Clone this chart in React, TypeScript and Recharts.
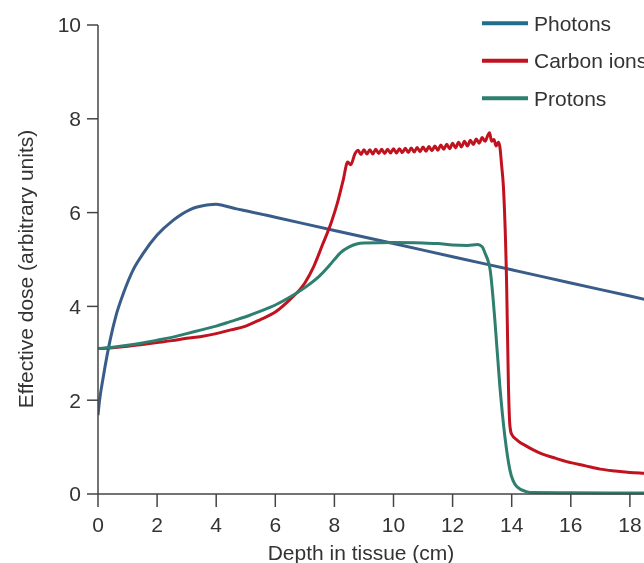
import React from 'react';
import { LineChart, Line, XAxis, YAxis, Legend } from 'recharts';

const xTicks = [0, 2, 4, 6, 8, 10, 12, 14, 16, 18, 20];
const yTicks = [0, 2, 4, 6, 8, 10];

const photonDepth = [0, 0.05, 0.18, 0.41, 0.63, 0.86, 1.19, 1.53, 2.0, 2.55, 3.1, 3.68, 4.0, 4.24, 4.69, 5.0, 6, 8, 10, 12, 14, 16, 18, 20];
const photonDose = [1.68, 1.98, 2.5, 3.28, 3.85, 4.28, 4.78, 5.13, 5.52, 5.84, 6.06, 6.16, 6.18, 6.15, 6.08, 6.04, 5.9, 5.62, 5.34, 5.06, 4.78, 4.5, 4.22, 3.94];

const carbonDepth = [
  0, 0.5, 1, 1.5, 2, 2.5, 3, 3.5, 4, 4.5, 5, 5.5, 6, 6.5, 7, 7.3, 7.6, 7.9, 8.1, 8.3, 8.45, 8.55, 8.7,
  8.8, 8.9, 9.0, 9.1, 9.2, 9.3, 9.4, 9.5, 9.6, 9.7, 9.8, 9.9, 10.0, 10.1, 10.2, 10.3, 10.4, 10.5, 10.6, 10.7, 10.8, 10.9,
  11.0, 11.1, 11.2, 11.3, 11.4, 11.5, 11.6, 11.7, 11.8, 11.9, 12.0, 12.1, 12.2, 12.3, 12.4, 12.5, 12.6, 12.7, 12.8, 12.9,
  13.0, 13.1, 13.2, 13.25, 13.32, 13.4, 13.47, 13.55, 13.6, 13.66, 13.72, 13.83, 13.89, 13.94, 14.0, 14.2, 14.5, 14.73,
  15.0, 15.5, 15.86, 16.5, 17.0, 17.5, 18.0, 18.5, 19.0, 20.0,
];
const carbonDose = [
  3.1, 3.12, 3.15, 3.19, 3.23, 3.27, 3.32, 3.36, 3.42, 3.5, 3.58, 3.72, 3.88, 4.15, 4.5, 4.85, 5.32, 5.8, 6.2, 6.7, 7.08, 7.02, 7.26,
  7.33, 7.24, 7.34, 7.25, 7.34, 7.25, 7.35, 7.26, 7.35, 7.26, 7.35, 7.27, 7.36, 7.27, 7.36, 7.28, 7.37, 7.28, 7.38, 7.29, 7.39, 7.3,
  7.4, 7.31, 7.41, 7.32, 7.42, 7.33, 7.44, 7.35, 7.46, 7.36, 7.48, 7.38, 7.5, 7.4, 7.52, 7.42, 7.54, 7.45, 7.57, 7.48,
  7.6, 7.52, 7.66, 7.7, 7.52, 7.56, 7.42, 7.5, 7.4, 7.0, 6.55, 4.42, 2.29, 1.45, 1.27, 1.14, 1.02, 0.94,
  0.86, 0.76, 0.69, 0.6, 0.53, 0.49, 0.46, 0.44, 0.42, 0.39,
];

const protonDepth = [0, 0.5, 1, 1.5, 2, 2.5, 3, 3.5, 4, 4.5, 5, 5.5, 6, 6.5, 7, 7.5, 7.8, 8.0, 8.2, 8.5, 8.75, 9, 10, 11, 11.5, 12, 12.5, 12.85, 13.0, 13.1, 13.27, 13.43, 13.6, 13.77, 13.94, 14.17, 14.5, 14.7, 16, 18, 20];
const protonDose = [3.1, 3.13, 3.17, 3.22, 3.28, 3.34, 3.42, 3.5, 3.58, 3.68, 3.78, 3.9, 4.03, 4.2, 4.4, 4.65, 4.85, 5.0, 5.14, 5.27, 5.33, 5.35, 5.36, 5.35, 5.34, 5.31, 5.3, 5.32, 5.27, 5.13, 4.78, 3.71, 2.29, 1.22, 0.51, 0.16, 0.05, 0.03, 0.025, 0.02, 0.015];

const seriesNames = ['Photons', 'Carbon ions', 'Protons'];
const lineColors = ['#3a5c88', '#c1121f', '#2e7f6f'];
const legendColors = ['#1f6f8b', '#c1121f', '#2e7f6f'];

const toPoints = (xs: number[], ys: number[]) => xs.map((x, i) => ({ depth: x, dose: ys[i] }));
const photonData = toPoints(photonDepth, photonDose);
const carbonData = toPoints(carbonDepth, carbonDose);
const protonData = toPoints(protonDepth, protonDose);

const FONT = '"Liberation Sans", Arial, sans-serif';
const TEXT = '#333';
const AXIS = '#444';

const LegendContent = () => (
  <svg width={200} height={110} style={{ display: 'block', overflow: 'visible' }}>
    {seriesNames.map((name, i) => {
      const y = 15.3 + i * 37.5;
      return (
        <g key={name}>
          <line x1={0} x2={46} y1={y} y2={y} stroke={legendColors[i]} strokeWidth={4} />
          <text x={52} y={y} dy="0.35em" fontFamily={FONT} fontSize={21} fill={TEXT}>
            {name}
          </text>
        </g>
      );
    })}
  </svg>
);

export default function App() {
  return (
    <div style={{ position: 'fixed', left: 8, top: 8, width: 636, height: 555, overflow: 'hidden' }}>
      <LineChart width={700} height={555} margin={{ top: 17, right: 19, bottom: 9, left: 0 }}>
        <XAxis
          type="number"
          dataKey="depth"
          domain={[0, 20]}
          ticks={xTicks}
          allowDataOverflow
          height={60}
          tickSize={13}
          tickMargin={10}
          axisLine={{ stroke: AXIS, strokeWidth: 1.5 }}
          tickLine={{ stroke: AXIS, strokeWidth: 1.5 }}
          tick={{ fill: TEXT, fontSize: 21, fontFamily: FONT }}
          label={() => (
            <text x={353} y={552} textAnchor="middle" fontFamily={FONT} fontSize={21} fill={TEXT}>
              Depth in tissue (cm)
            </text>
          )}
        />
        <YAxis
          type="number"
          domain={[0, 10]}
          ticks={yTicks}
          width={90}
          tickSize={11}
          tickMargin={6}
          axisLine={{ stroke: AXIS, strokeWidth: 1.5 }}
          tickLine={{ stroke: AXIS, strokeWidth: 1.5 }}
          tick={{ fill: TEXT, fontSize: 21, fontFamily: FONT }}
          label={() => (
            <text
              x={25}
              y={261}
              transform="rotate(-90, 25, 261)"
              textAnchor="middle"
              fontFamily={FONT}
              fontSize={21}
              fill={TEXT}
            >
              Effective dose (arbitrary units)
            </text>
          )}
        />
        <Legend
          layout="vertical"
          align="center"
          verticalAlign="middle"
          content={() => <LegendContent />}
          wrapperStyle={{ position: 'absolute', left: 474, top: 0, width: 200, height: 110 }}
        />
        <Line data={photonData} dataKey="dose" name="Photons" type="monotone" stroke={lineColors[0]} strokeWidth={3} dot={false} isAnimationActive={false} />
        <Line data={carbonData} dataKey="dose" name="Carbon ions" type="monotone" stroke={lineColors[1]} strokeWidth={3} dot={false} isAnimationActive={false} />
        <Line data={protonData} dataKey="dose" name="Protons" type="monotone" stroke={lineColors[2]} strokeWidth={3} dot={false} isAnimationActive={false} />
      </LineChart>
    </div>
  );
}
